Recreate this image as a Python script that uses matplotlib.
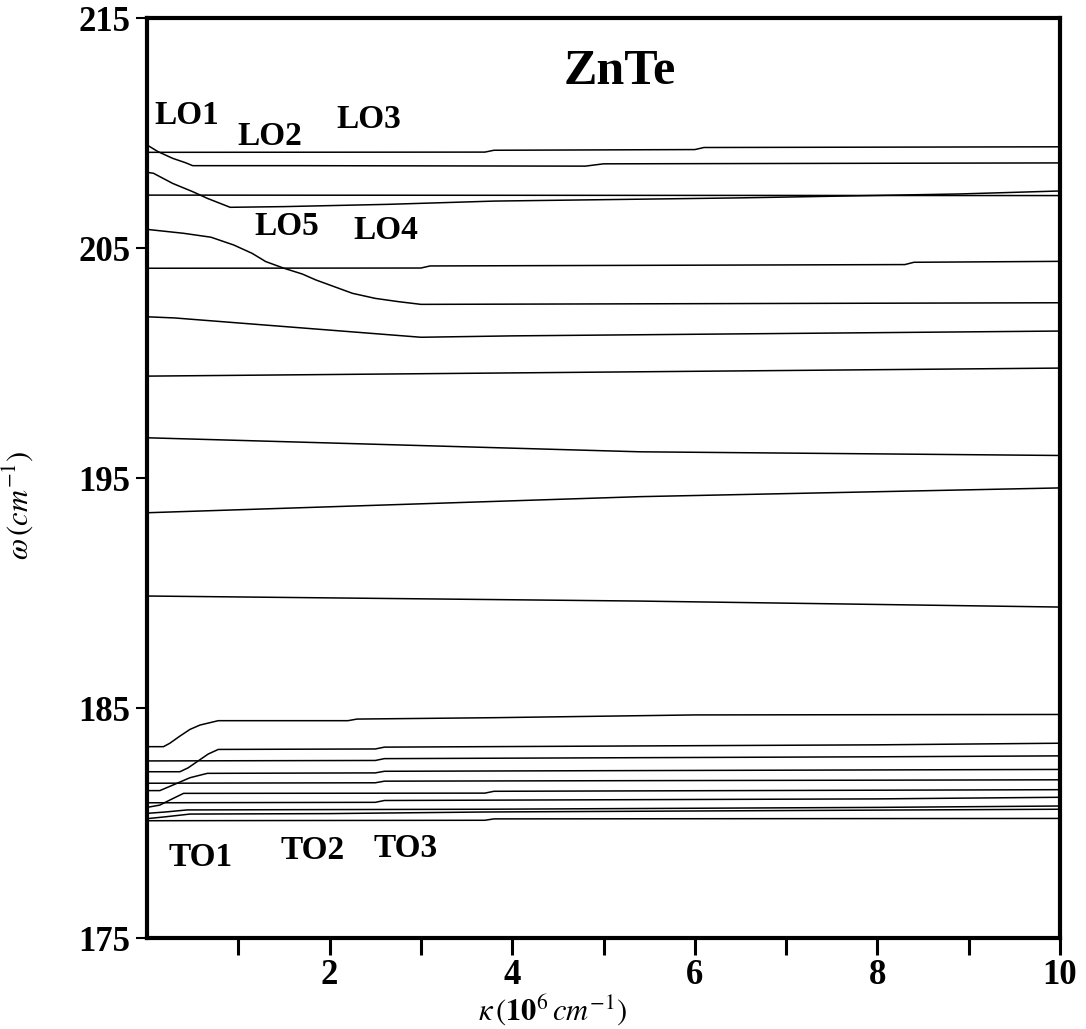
import matplotlib
matplotlib.use("Agg")
import matplotlib.pyplot as plt
from matplotlib.ticker import FixedLocator

plt.rcParams["font.family"] = ["Liberation Serif", "DejaVu Serif"]
plt.rcParams["mathtext.fontset"] = "stix"

# ---- dispersion branches: wave vector k (10^6 cm^-1) and frequency w (cm^-1) ----
# upper (LO-like) branches
u1_k = [0, 0.12, 0.28, 0.42, 0.5, 1.67, 4.8, 5.0, 10]
u1_w = [209.48, 209.19, 208.90, 208.71, 208.58, 208.58, 208.56, 208.66, 208.70]

u2_k = [0, 3.7, 3.8, 6.0, 6.1, 10]
u2_w = [209.16, 209.17, 209.25, 209.28, 209.37, 209.40]

u3_k = [0, 0.07, 0.28, 0.5, 0.66, 0.91, 1.5, 2.65, 3.8, 6.5, 8.9, 10]
u3_w = [208.29, 208.25, 207.81, 207.45, 207.16, 206.77, 206.80, 206.90, 207.04, 207.18, 207.35, 207.48]

u4_k = [0, 10]
u4_w = [207.30, 207.28]

u5_k = [0, 0.4, 0.7, 0.95, 1.15, 1.3, 1.5, 1.7, 1.85, 2.05, 2.25, 2.5, 2.75, 3.0, 10]
u5_w = [205.81, 205.64, 205.47, 205.13, 204.77, 204.41, 204.12, 203.87, 203.61, 203.32,
        203.03, 202.81, 202.67, 202.55, 202.62]

u6_k = [0, 3.0, 3.1, 8.3, 8.4, 10]
u6_w = [204.12, 204.13, 204.22, 204.28, 204.38, 204.42]

u7_k = [0, 0.3, 3.0, 4.0, 10]
u7_w = [202.01, 201.96, 201.12, 201.18, 201.39]

u8_k = [0, 10]
u8_w = [199.43, 199.78]

u9_k = [0, 5.4, 10]
u9_w = [196.75, 196.14, 195.98]

u10_k = [0, 5.4, 10]
u10_w = [193.49, 194.19, 194.57]

u11_k = [0, 5.4, 10]
u11_w = [189.87, 189.65, 189.39]

# lower (TO-like) branches
l1_k = [0, 0.18, 0.25, 0.36, 0.47, 0.58, 0.78, 2.2, 2.3, 3.8, 6.0, 10]
l1_w = [183.32, 183.32, 183.47, 183.78, 184.07, 184.26, 184.45, 184.45, 184.52, 184.58, 184.70, 184.72]

l2_k = [0, 0.36, 0.45, 0.56, 0.67, 0.78, 2.5, 2.6, 8.0, 10]
l2_w = [182.23, 182.23, 182.40, 182.70, 183.00, 183.20, 183.22, 183.30, 183.40, 183.47]

l3_k = [0, 2.5, 2.6, 8.0, 10]
l3_w = [182.70, 182.72, 182.80, 182.88, 182.92]

l4_k = [0, 0.14, 0.33, 0.47, 0.66, 2.5, 2.6, 10]
l4_w = [181.41, 181.41, 181.73, 181.97, 182.16, 182.18, 182.25, 182.33]

l5_k = [0, 2.5, 2.6, 10]
l5_w = [181.73, 181.75, 181.82, 181.88]

l6_k = [0, 0.14, 0.25, 0.4, 3.7, 3.8, 10]
l6_w = [180.68, 180.78, 181.00, 181.29, 181.30, 181.38, 181.45]

l7_k = [0, 2.5, 2.6, 8.0, 10]
l7_w = [180.88, 180.90, 180.98, 181.05, 181.12]

l8_k = [0, 0.2, 0.44, 3.7, 8.0, 10]
l8_w = [180.42, 180.48, 180.57, 180.60, 180.68, 180.74]

l9_k = [0, 0.2, 0.47, 2.0, 3.7, 10]
l9_w = [180.19, 180.27, 180.39, 180.41, 180.48, 180.60]

l10_k = [0, 3.7, 3.8, 10]
l10_w = [180.10, 180.12, 180.18, 180.20]

branches = [
    (u1_k, u1_w), (u2_k, u2_w), (u3_k, u3_w), (u4_k, u4_w), (u5_k, u5_w),
    (u6_k, u6_w), (u7_k, u7_w), (u8_k, u8_w), (u9_k, u9_w), (u10_k, u10_w),
    (u11_k, u11_w),
    (l1_k, l1_w), (l2_k, l2_w), (l3_k, l3_w), (l4_k, l4_w), (l5_k, l5_w),
    (l6_k, l6_w), (l7_k, l7_w), (l8_k, l8_w), (l9_k, l9_w), (l10_k, l10_w),
]

# mode labels (text, k, w)
mode_labels = [
    ("LO1", 0.44, 210.75), ("LO2", 1.34, 209.85), ("LO3", 2.43, 210.6),
    ("LO5", 1.53, 205.95), ("LO4", 2.62, 205.75),
    ("TO1", 0.59, 178.5), ("TO2", 1.81, 178.8), ("TO3", 2.83, 178.9),
]

x_ticks = [1, 2, 3, 4, 5, 6, 7, 8, 9, 10]
x_labels = ["", "2", "", "4", "", "6", "", "8", "", "10"]
y_ticks = [175, 185, 195, 205, 215]

fig = plt.figure(figsize=(10.86, 10.29), dpi=100)
ax = fig.add_axes([0.1354, 0.0884, 0.8407, 0.8941])

for k, w in branches:
    ax.plot(k, w, color="black", lw=1.1, solid_joinstyle="round")

ax.set_xlim(0, 10)
ax.set_ylim(175, 215)

for side in ax.spines.values():
    side.set_linewidth(3.0)

ax.xaxis.set_major_locator(FixedLocator(x_ticks))
ax.set_xticklabels(x_labels)
ax.set_yticks(y_ticks)
ax.tick_params(axis="x", direction="out", length=12, width=2.2, pad=3,
               labelsize=25, top=False)
ax.tick_params(axis="y", direction="out", length=8, width=1.5, pad=4,
               labelsize=25, right=False)
for lab in ax.get_xticklabels() + ax.get_yticklabels():
    lab.set_fontweight("bold")

ax.set_xlabel(r"$\kappa\,(\mathbf{10}^{6}\,cm^{-1})$", fontsize=22)
ax.xaxis.set_label_coords(0.444, -0.059)
ax.set_ylabel(r"$\omega\,(cm^{-1})$", fontsize=22)
ax.yaxis.set_label_coords(-0.123, 0.47)

ax.text(5.18, 212.65, "ZnTe", fontsize=36, fontweight="bold",
        ha="center", va="center")
for txt, k, w in mode_labels:
    ax.text(k, w, txt, fontsize=24, fontweight="bold", ha="center", va="center")

fig.savefig("out.png", dpi=100, facecolor="white")
